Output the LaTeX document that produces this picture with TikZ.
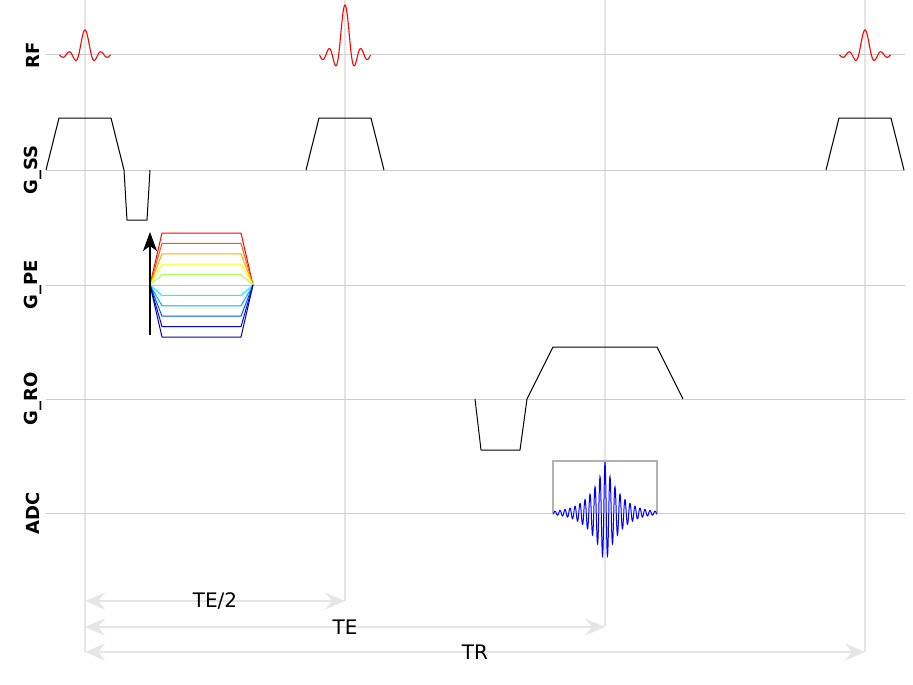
\documentclass[tikz,border=0pt]{standalone}
\usepackage{fontspec}
\setmainfont{DejaVu Sans}
\usetikzlibrary{arrows.meta}
\definecolor{PEa}{RGB}{255, 0, 0}
\definecolor{PEb}{RGB}{255, 85, 0}
\definecolor{PEc}{RGB}{255, 170, 0}
\definecolor{PEd}{RGB}{255, 255, 0}
\definecolor{PEe}{RGB}{170, 255, 85}
\definecolor{PEf}{RGB}{85, 255, 170}
\definecolor{PEg}{RGB}{0, 255, 255}
\definecolor{PEh}{RGB}{0, 170, 255}
\definecolor{PEi}{RGB}{0, 85, 255}
\definecolor{PEj}{RGB}{0, 0, 255}
\definecolor{PEk}{RGB}{0, 0, 170}
\begin{document}
\begin{tikzpicture}[
    x=1pt, y=-1pt,
    axisline/.style={draw=black!20, line width=1pt},
    timeline/.style={draw=black!10, line width=1.2pt},
    grad/.style={draw=black, line width=1pt, line join=round},
    rowlabel/.style={rotate=90, font=\bfseries\fontsize{18}{21}\selectfont},
    timespan/.style={draw=black!10, line width=1.5pt, {Stealth[length=20pt, width=17pt, inset=7pt]}-{Stealth[length=20pt, width=17pt, inset=7pt]}},
    spanlabel/.style={font=\fontsize{20}{24}\selectfont, text=black}
]
\useasboundingbox (0,0) rectangle (913,685);
\coordinate (t0) at (85,0);
\coordinate (t1) at (345,0);
\coordinate (t2) at (605,0);
\coordinate (t3) at (865,0);
\coordinate (te2a) at (85,601);
\coordinate (te2b) at (345,601);
\coordinate (tea) at (85,627);
\coordinate (teb) at (605,627);
\coordinate (tra) at (85,652);
\coordinate (trb) at (865,652);
\draw[timeline] (t0) -- (tra);
\draw[timeline] (t1) -- (te2b);
\draw[timeline] (t2) -- (teb);
\draw[timeline] (t3) -- (trb);
\foreach \y in {55, 170, 285, 399, 513}
    \draw[axisline] (46,\y) -- (905,\y);
\node[rowlabel] (rf) at (33,55) {RF};
\node[rowlabel] (gss) at (33,170) {G\_SS};
\node[rowlabel] (gpe) at (33,285) {G\_PE};
\node[rowlabel] (gro) at (33,399) {G\_RO};
\node[rowlabel] (adc) at (33,513) {ADC};
\foreach \c/\a in {85/25, 345/50, 865/25}
    \draw[red, line width=1.1pt] plot[domain=-25.5:25.5, samples=200, smooth] ({\c+\x}, {55-\a*sin(\x*28.2353)/(\x*0.492800)});
\draw[grad] (46,170) -- (59,118) -- (111,118) -- (124,170) -- (127,220) -- (147,220) -- (150,170);
\draw[grad] (306,170) -- (319,118) -- (371,118) -- (384,170);
\draw[grad] (826,170) -- (839,118) -- (891,118) -- (904,170);
\foreach \k/\col in {5/PEa, 4/PEb, 3/PEc, 2/PEd, 1/PEe, 0/PEf, -1/PEg, -2/PEh, -3/PEi, -4/PEj, -5/PEk}
    \draw[\col, line width=1pt, line join=round] (150,285) -- (162,{285-10.4*\k}) -- (241,{285-10.4*\k}) -- (253,285);
\coordinate (peb) at (150,335);
\coordinate (pet) at (150,232);
\draw[-{Stealth[length=19pt, width=14pt, inset=5pt]}, line width=1.2pt] (peb) -- (pet);
\draw[grad] (475,399) -- (481,450) -- (520,450) -- (527,399) -- (553,347) -- (657,347) -- (683,399);
\draw[black!30, line width=1.2pt] (553,513) -- (553,461) -- (657,461) -- (657,513);
\draw[blue, line width=1pt] plot[domain=-52:52, samples=521] ({605+\x}, {513-51*exp(-abs(\x)/15)*cos(72*\x)});
\draw[timespan] (te2a) -- (te2b) node[spanlabel, midway] (te2) {TE/2};
\draw[timespan] (tea) -- (teb) node[spanlabel, midway] (te) {TE};
\draw[timespan] (tra) -- (trb) node[spanlabel, midway] (tr) {TR};
\end{tikzpicture}
\end{document}
